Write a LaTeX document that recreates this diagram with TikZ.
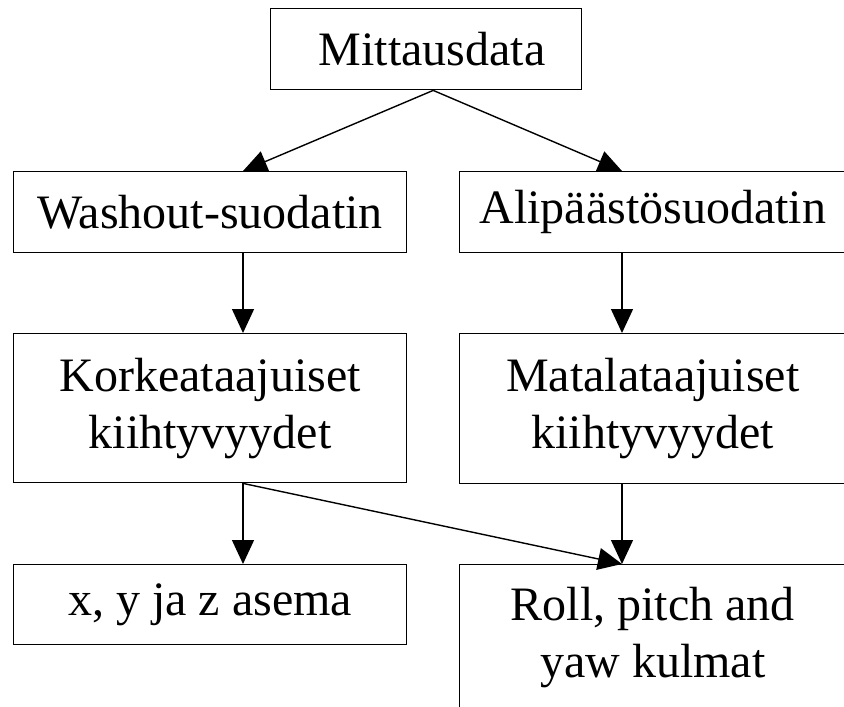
\documentclass[tikz,border=0pt]{standalone}
\usepackage{fontspec}
\setmainfont{Liberation Serif}
\usetikzlibrary{arrows.meta}

\tikzset{
  laatikko/.style={draw, line width=1.4pt, rectangle, inner sep=0pt, anchor=north west,
    align=center, font=\fontsize{48}{57}\selectfont},
  nuoli/.style={line width=1.4pt, -{Triangle[length=24pt,width=22pt]}}
}
\newcommand{\oik}{\hspace*{24pt}}

\begin{document}
\begin{tikzpicture}[x=1pt,y=-1pt]
            \useasboundingbox (0,0) rectangle (844,707);
            \clip (0,0) rectangle (844,707);
            % laatikot
            \node[laatikko, minimum width=311pt, minimum height=81pt] (mitt) at (270,8) {\hspace*{12pt}Mittausdata};
            \node[laatikko, minimum width=393pt, minimum height=81pt] (wash) at (13,171) {Washout-suodatin};
            \node[laatikko, minimum width=410pt, minimum height=81pt] (alip) at (459,171) {Alipäästösuodatin\oik};
            \node[laatikko, minimum width=393pt, minimum height=149pt] (korkea) at (13,333) {Korkeataajuiset\\kiihtyvyydet};
            \node[laatikko, minimum width=410pt, minimum height=150pt] (matala) at (459,333) {Matalataajuiset\oik\\kiihtyvyydet\oik};
            \node[laatikko, minimum width=393pt, minimum height=80pt] (asema) at (13,564) {x, y ja z asema};
            \node[laatikko, minimum width=410pt, minimum height=146pt] (roll) at (459,564) {Roll, pitch and\oik\\yaw kulmat\oik};
            % nuolten pystylinjat
            \coordinate (vx) at (243,0);
            \coordinate (ox) at (622,0);
            \coordinate (lahto) at ([xshift=7pt]mitt.south);
            % nuolet
            \draw[nuoli] (lahto) -- (vx |- wash.north);
            \draw[nuoli] (lahto) -- (ox |- alip.north);
            \draw[nuoli] (vx |- wash.south) -- (vx |- korkea.north);
            \draw[nuoli] (ox |- alip.south) -- (ox |- matala.north);
            \draw[nuoli] (vx |- korkea.south) -- (vx |- asema.north);
            \draw[nuoli] (ox |- matala.south) -- (ox |- roll.north);
            \draw[nuoli] (vx |- korkea.south) -- (ox |- roll.north);
\end{tikzpicture}
\end{document}
